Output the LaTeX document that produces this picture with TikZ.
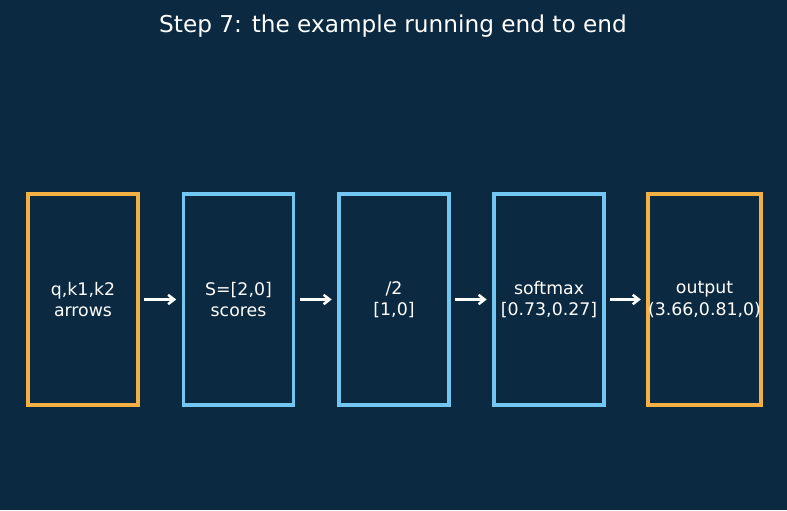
\documentclass[tikz,border=0pt]{standalone}
\usepackage{fontspec}
\setmainfont{DejaVu Sans}
\usetikzlibrary{arrows.meta}
\definecolor{navybg}{HTML}{0B2A42}
\definecolor{warmorange}{HTML}{F4B042}
\definecolor{skyblue}{HTML}{72C7F2}

\begin{document}
\begin{tikzpicture}[
  x=0.75pt, y=-0.75pt,
  stage/.style={draw=skyblue, line width=2.6pt, fill=navybg, align=center,
    minimum width=82.5pt, minimum height=158.25pt, inner sep=0pt,
    text=white, font=\fontsize{13}{16}\selectfont},
  endstage/.style={stage, draw=warmorange},
  arrow/.style={-{Straight Barb[length=4.5pt, width=7pt]}, line width=1.9pt, white,
    shorten <=3.2pt, shorten >=4.2pt}
]
\fill[navybg] (0,0) rectangle (787,510);
\useasboundingbox (0,0) rectangle (787,510);

\node[text=white, font=\fontsize{17.4}{21}\selectfont] (title) at (393,26)
  {Step 7: the example running end to end};

\node[endstage] (inputs) at (83,299.5) {q,k1,k2\\arrows};
\node[stage] (scores) at (238.5,299.5) {S=[2,0]\\scores};
\node[stage] (scaled) at (394,299.5) {/2\\{}[1,0]};
\node[stage] (softmax) at (549,299.5) {softmax\\{}[0.73,0.27]};
\node[endstage] (result) at (704.5,299.5) {output\\(3.66,0.81,0)};

\foreach \a/\b in {inputs/scores,scores/scaled,scaled/softmax,softmax/result}
  \draw[arrow] (\a) -- (\b);
\end{tikzpicture}
\end{document}
